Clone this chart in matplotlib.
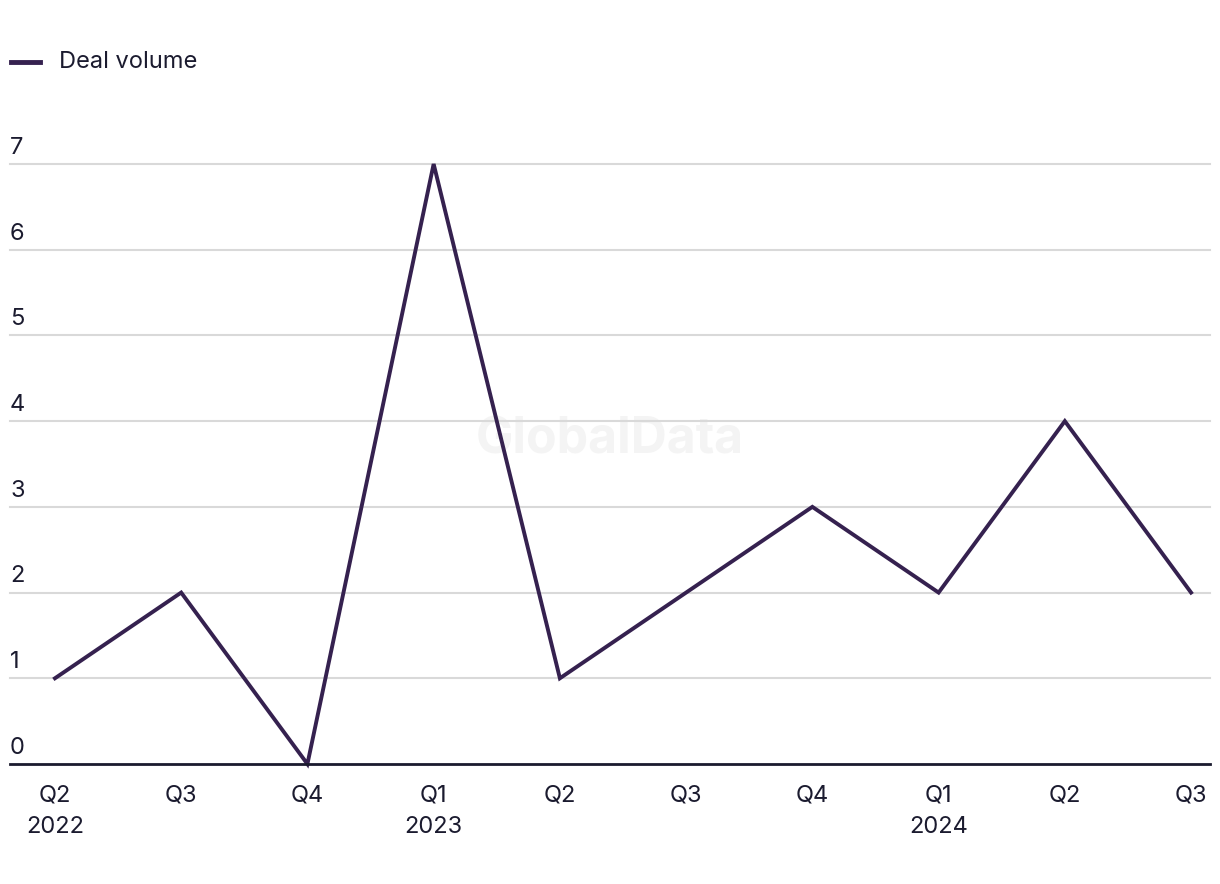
import matplotlib
matplotlib.use("Agg")
import matplotlib.pyplot as plt
import matplotlib.transforms as mtransforms

plt.rcParams["font.family"] = ["Inter", "DejaVu Sans"]

quarters = ["Q2", "Q3", "Q4", "Q1", "Q2", "Q3", "Q4", "Q1", "Q2", "Q3"]
years = ["2022", "", "", "2023", "", "", "", "2024", "", ""]
deal_volume = [1, 2, 0, 7, 1, 2, 3, 2, 4, 2]
y_ticks = [0, 1, 2, 3, 4, 5, 6, 7]

LINE = "#35214f"
TEXT = "#1b1b2f"
W, H = 1220, 884
fig = plt.figure(figsize=(W / 100, H / 100), dpi=100)
ax = fig.add_axes([10 / W, 1 - 764 / H, 1200 / W, 600 / H])

x = list(range(len(quarters)))
ax.plot(x, deal_volume, color=LINE, lw=2.8, clip_on=False, zorder=3,
        solid_joinstyle="miter", label="Deal volume")

ax.set_xlim(-0.356, 9.15)
ax.set_ylim(0, 7)
for s in ax.spines.values():
    s.set_visible(False)
ax.set_yticks([])
ax.set_xticks([])

ytrans = mtransforms.blended_transform_factory(ax.transAxes, ax.transData)
for v in y_ticks:
    if v == 0:
        ax.axhline(0, color="#1a1a2e", lw=2, zorder=4, clip_on=False)
    else:
        ax.axhline(v, color="#d9d9d9", lw=1.5, zorder=1, clip_on=False)
    ax.text(0.0, v + 0.06, str(v), transform=ytrans,
            fontsize=17, color=TEXT, ha="left", va="bottom")

for xi, q, yr in zip(x, quarters, years):
    lab = q + ("\n" + yr if yr else "")
    ax.text(xi, -0.24, lab, transform=ax.transData, ha="center", va="top",
            fontsize=17, color=TEXT, linespacing=1.55)

# watermark
ax.text(0.5, 0.54, "GlobalData", transform=ax.transAxes, ha="center", va="center",
        fontsize=36, fontweight="bold", color="#f4f4f4", zorder=0)

# legend
fig.lines.append(plt.Line2D([11 / W, 40 / W], [1 - 62 / H, 1 - 62 / H], color=LINE, lw=3.5,
                            transform=fig.transFigure))
fig.text(59 / W, 1 - 62 / H, "Deal volume", fontsize=17, color=TEXT, ha="left", va="center")

fig.savefig("out.png", dpi=100, facecolor="white")
